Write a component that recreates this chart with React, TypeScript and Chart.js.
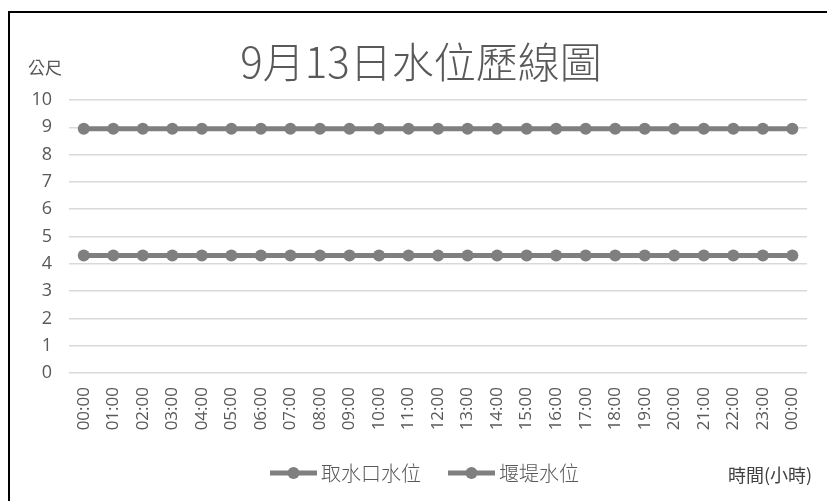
import React, { useEffect, useRef } from "react";
import { Chart, registerables } from "chart.js";

Chart.register(...registerables);

const TITLE = "9月13日水位歷線圖";
const Y_UNIT = "公尺";
const X_UNIT = "時間(小時)";

const timeLabels = [
  "00:00", "01:00", "02:00", "03:00", "04:00", "05:00", "06:00", "07:00",
  "08:00", "09:00", "10:00", "11:00", "12:00", "13:00", "14:00", "15:00",
  "16:00", "17:00", "18:00", "19:00", "20:00", "21:00", "22:00", "23:00", "00:00",
];

const intakeLevel = [
  4.3, 4.3, 4.3, 4.3, 4.3, 4.3, 4.3, 4.3, 4.3, 4.3, 4.3, 4.3, 4.3,
  4.3, 4.3, 4.3, 4.3, 4.3, 4.3, 4.3, 4.3, 4.3, 4.3, 4.3, 4.3,
];

const weirLevel = [
  8.95, 8.95, 8.95, 8.95, 8.95, 8.95, 8.95, 8.95, 8.95, 8.95, 8.95, 8.95, 8.95,
  8.95, 8.95, 8.95, 8.95, 8.95, 8.95, 8.95, 8.95, 8.95, 8.95, 8.95, 8.95,
];

const seriesNames = ["取水口水位", "堰堤水位"];

const SERIES_COLOR = "#7f7f7f";
const TEXT_COLOR = "#595959";
const CJK = '"Noto Sans CJK TC", "Noto Sans", sans-serif';

const decorPlugin = {
  id: "decor",
  afterDraw(chart: any) {
    const ctx = chart.ctx as CanvasRenderingContext2D;
    ctx.save();
    // frame
    ctx.strokeStyle = "#000";
    ctx.lineWidth = 2;
    ctx.beginPath();
    ctx.moveTo(9, 501);
    ctx.lineTo(9, 12);
    ctx.lineTo(827, 12);
    ctx.stroke();

    // title
    ctx.fillStyle = TEXT_COLOR;
    ctx.font = `300 42px ${CJK}`;
    ctx.textAlign = "center";
    ctx.textBaseline = "middle";
    ctx.fillText(TITLE, 421, 62);

    // y unit
    ctx.font = `17px ${CJK}`;
    ctx.textAlign = "left";
    ctx.fillText(Y_UNIT, 28, 68);

    // legend
    const items = chart.data.datasets.map((d: any) => d.label);
    const lineXs = [270, 448];
    const ly = 473;
    ctx.font = `300 20px ${CJK}`;
    items.forEach((name: string, i: number) => {
      const x0 = lineXs[i];
      ctx.strokeStyle = SERIES_COLOR;
      ctx.lineWidth = 5;
      ctx.beginPath();
      ctx.moveTo(x0, ly);
      ctx.lineTo(x0 + 47, ly);
      ctx.stroke();
      ctx.fillStyle = SERIES_COLOR;
      ctx.beginPath();
      ctx.arc(x0 + 23.5, ly, 6, 0, Math.PI * 2);
      ctx.fill();
      ctx.fillStyle = TEXT_COLOR;
      ctx.textAlign = "left";
      ctx.textBaseline = "middle";
      ctx.fillText(name, x0 + 51, ly);
    });

    // x unit
    ctx.fillStyle = "#404040";
    ctx.font = `18px ${CJK}`;
    ctx.textAlign = "left";
    ctx.fillText(X_UNIT, 728, 475);
    ctx.restore();
  },
};

export default function App() {
  const ref = useRef<HTMLCanvasElement>(null);

  useEffect(() => {
    const canvas = ref.current;
    if (!canvas) return;
    const chart = new Chart(canvas, {
      type: "line",
      data: {
        labels: timeLabels,
        datasets: [
          {
            label: seriesNames[0],
            data: intakeLevel,
            borderColor: SERIES_COLOR,
            backgroundColor: SERIES_COLOR,
            borderWidth: 5,
            pointRadius: 6,
            pointBackgroundColor: SERIES_COLOR,
            pointBorderWidth: 0,
            tension: 0,
          },
          {
            label: seriesNames[1],
            data: weirLevel,
            borderColor: SERIES_COLOR,
            backgroundColor: SERIES_COLOR,
            borderWidth: 5,
            pointRadius: 6,
            pointBackgroundColor: SERIES_COLOR,
            pointBorderWidth: 0,
            tension: 0,
          },
        ],
      },
      options: {
        responsive: false,
        animation: false,
        layout: { padding: { top: 100, left: 0, right: 12, bottom: 0 } },
        plugins: {
          legend: { display: false },
          title: { display: false },
          tooltip: { enabled: false },
        },
        scales: {
          x: {
            offset: true,
            grid: { display: false, drawTicks: false },
            border: { display: false },
            ticks: {
              autoSkip: false,
              minRotation: 90,
              maxRotation: 90,
              padding: 14,
              color: TEXT_COLOR,
              font: { family: '"Open Sans", sans-serif', size: 17 },
            },
            afterFit: (scale: any) => {
              scale.height = 128;
            },
          },
          y: {
            min: 0,
            max: 10,
            grid: { color: "#d9d9d9", lineWidth: 1.5, drawTicks: false },
            border: { display: false },
            ticks: {
              stepSize: 1,
              padding: 17,
              color: TEXT_COLOR,
              font: { family: '"Open Sans", sans-serif', size: 18 },
            },
            afterFit: (scale: any) => {
              scale.width = 69;
            },
          },
        },
      },
      plugins: [decorPlugin],
    });
    return () => chart.destroy();
  }, []);

  return (
    <div style={{ position: "fixed", left: 0, top: 0, width: 827, height: 501, background: "#fff" }}>
      <canvas ref={ref} width={827} height={501} style={{ display: "block" }} />
    </div>
  );
}
